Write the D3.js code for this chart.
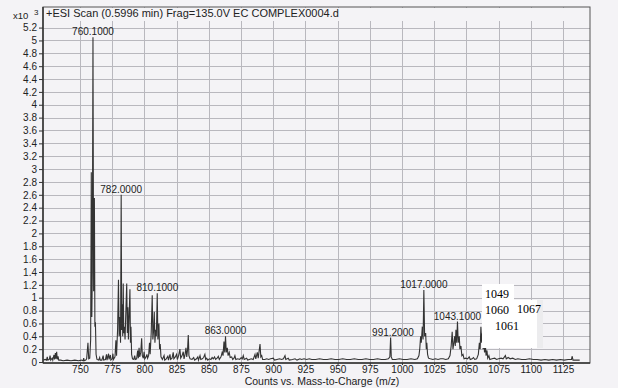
<!DOCTYPE html>
<html lang="en">
<head>
<meta charset="utf-8">
<title>ESI Scan</title>
<script src="https://cdn.jsdelivr.net/npm/d3@7"></script>
<style>
  body { margin: 0; background: #f4f3f6; }
  svg { display: block; font-family: "Liberation Sans", Arial, sans-serif; }
</style>
</head>
<body>
<div id="chart"></div>
<script>
// spectrum points: [m/z, counts x10^3]
var spectrum = [
  [721.5,0.03],[723,0.04],[724,0.03],[724.6,0.08],[725.1,0.03],[726.2,0.04],[726.8,0.1],[727.3,0.03],[728.4,0.06],[728.9,0.03],
  [729.8,0.11],[730.3,0.04],[730.9,0.14],[731.4,0.05],[731.9,0.16],[732.4,0.04],[733,0.09],[733.5,0.03],[735,0.03],[737,0.02],
  [740,0.03],[743,0.02],[746,0.03],[749,0.02],[751,0.03],[752.4,0.02],[752.9,0.06],[753.3,0.02],[754.5,0.03],[755.2,0.05],
  [756.2,0.3],[756.8,0.05],[757.6,0.06],[758.3,0.35],[758.8,2.95],[759.2,0.7],[759.6,1.4],[760.1,5.05],[760.6,1.1],[761.2,2.55],
  [761.6,0.55],[762.0,0.62],[762.5,0.12],[763.2,0.04],[764.5,0.03],[765.3,0.07],[765.7,0.03],[767,0.03],[768,0.1],[768.4,0.03],
  [769.8,0.04],[770.6,0.12],[771,0.03],[772.2,0.13],[772.6,0.04],[773.6,0.11],[774,0.03],[775,0.05],[775.6,0.13],[776,0.04],
  [777.2,0.08],[777.9,0.34],[778.4,0.1],[779.2,0.5],[779.9,1.28],[780.4,0.4],[781.1,0.7],[781.5,0.3],[782.0,2.6],[782.4,0.5],
  [782.8,0.9],[783.2,0.4],[783.6,1.22],[784.0,0.45],[784.5,0.55],[785.0,0.35],[785.5,0.7],[786.3,1.22],[786.8,0.45],[787.2,0.85],
  [787.6,0.35],[788.0,0.6],[788.8,1.13],[789.2,0.3],[789.6,0.55],[790.1,0.12],[790.8,0.05],[791.8,0.04],[792.5,0.1],[793,0.04],
  [794,0.05],[794.8,0.18],[795.3,0.06],[795.9,0.22],[796.4,0.08],[797.2,0.15],[797.9,0.37],[798.4,0.1],[799.2,0.06],[799.8,0.16],
  [800.3,0.05],[801.3,0.08],[802,0.12],[802.5,0.06],[803.3,0.1],[804,0.3],[804.5,0.12],[805.3,0.45],[806.1,1.04],[806.6,0.35],
  [807.2,0.5],[807.7,0.78],[808.2,0.3],[808.8,0.5],[809.3,0.4],[810.0,1.07],[810.5,0.35],[811.3,0.6],[811.8,0.2],[812.3,0.28],
  [812.9,0.08],[814,0.04],[815.3,0.1],[815.8,0.03],[817,0.05],[818.2,0.09],[818.7,0.03],[819.9,0.12],[820.4,0.04],[821.5,0.06],
  [822.4,0.15],[822.9,0.05],[824,0.08],[825,0.12],[825.6,0.04],[826.6,0.1],[827.6,0.2],[828.2,0.06],[829.3,0.1],[830.2,0.16],
  [830.8,0.05],[831.6,0.12],[832.3,0.22],[832.9,0.08],[833.5,0.18],[834.1,0.42],[834.6,0.1],[835.5,0.05],[837,0.04],[838.3,0.07],
  [839,0.03],[840.5,0.05],[841.5,0.08],[842,0.03],[843.2,0.1],[843.8,0.04],[845,0.05],[846,0.07],[847,0.12],[847.6,0.04],
  [848.4,0.06],[849.2,0.03],[850.5,0.05],[851.7,0.04],[852.6,0.07],[853.5,0.05],[854.5,0.08],[855.3,0.04],[856.5,0.06],[857.4,0.09],
  [858.2,0.04],[859.5,0.08],[860.4,0.15],[861.1,0.1],[861.8,0.32],[862.4,0.15],[863.0,0.4],[863.6,0.15],[864.4,0.22],[865.0,0.1],
  [865.9,0.15],[866.6,0.07],[867.8,0.08],[868.6,0.04],[869.6,0.06],[870.3,0.1],[871,0.04],[872.5,0.05],[874,0.04],[875.2,0.07],
  [876,0.05],[876.8,0.1],[877.5,0.04],[879.4,0.06],[880.2,0.03],[881.5,0.04],[883,0.05],[884.5,0.04],[885.9,0.12],[886.5,0.05],
  [887.7,0.15],[888.4,0.06],[889.8,0.28],[890.4,0.08],[891.1,0.1],[891.8,0.04],[893.5,0.04],[895,0.05],[896.5,0.04],[898,0.05],
  [900.1,0.06],[901,0.03],[903,0.04],[905,0.05],[906.5,0.04],[908,0.05],[909.2,0.1],[909.8,0.04],[911.7,0.06],[912.5,0.03],
  [915,0.04],[917,0.05],[918.5,0.03],[920.8,0.05],[922,0.04],[924,0.05],[926,0.04],[928,0.05],[930,0.04],[933,0.04],
  [936,0.05],[939,0.04],[942,0.04],[945,0.05],[948,0.04],[951,0.04],[954,0.05],[957,0.04],[960,0.04],[963,0.05],
  [966,0.04],[969,0.04],[972,0.05],[975,0.04],[978,0.04],[981,0.05],[984,0.04],[987,0.04],[989.5,0.05],[990.6,0.08],
  [991.2,0.38],[991.7,0.08],[992.5,0.04],[995,0.04],[998,0.05],[1001,0.04],[1004,0.04],[1007,0.05],[1010,0.04],[1012,0.05],
  [1013.2,0.1],[1013.8,0.2],[1014.5,0.4],[1015.0,0.3],[1015.8,0.55],[1016.4,0.35],[1017.0,1.12],[1017.6,0.4],[1018.4,0.45],[1018.9,0.2],
  [1019.3,0.3],[1019.9,0.12],[1020.6,0.06],[1022,0.05],[1024,0.04],[1026,0.05],[1028,0.04],[1030,0.05],[1032,0.05],[1034,0.04],
  [1036,0.05],[1037.3,0.1],[1038.2,0.25],[1039.0,0.47],[1039.6,0.2],[1040.3,0.3],[1040.9,0.4],[1041.4,0.25],[1041.9,0.5],[1042.5,0.3],
  [1043.1,0.63],[1043.7,0.3],[1044.5,0.4],[1045.0,0.2],[1045.8,0.25],[1046.5,0.1],[1047.4,0.12],[1048.2,0.05],[1049.5,0.06],[1051,0.05],
  [1052.2,0.08],[1053,0.04],[1054.5,0.05],[1055.5,0.07],[1056.5,0.04],[1058,0.05],[1059.3,0.12],[1060.1,0.3],[1060.7,0.2],[1061.3,0.55],
  [1061.9,0.3],[1062.5,0.45],[1063.0,0.2],[1063.6,0.35],[1064.1,0.15],[1064.8,0.25],[1065.3,0.1],[1066.0,0.18],[1066.6,0.06],[1067.5,0.1],
  [1068.2,0.04],[1070,0.05],[1072,0.06],[1073.5,0.04],[1075,0.05],[1077,0.06],[1078.5,0.05],[1080.3,0.1],[1081,0.05],[1082.5,0.07],
  [1084,0.05],[1086,0.06],[1088,0.04],[1090,0.05],[1093,0.04],[1096,0.04],[1099,0.05],[1102,0.04],[1105,0.04],[1108,0.03],
  [1111,0.04],[1114,0.03],[1117,0.04],[1120,0.03],[1123,0.04],[1126,0.03],[1129,0.04],[1131.6,0.04],[1132.2,0.09],[1132.8,0.03],
  [1135,0.03],[1138,0.03]
];

var xTicks = [750, 775, 800, 825, 850, 875, 900, 925, 950, 975, 1000, 1025, 1050, 1075, 1100, 1125];
var yTicks = [0, 0.2, 0.4, 0.6, 0.8, 1, 1.2, 1.4, 1.6, 1.8, 2, 2.2, 2.4, 2.6, 2.8, 3, 3.2, 3.4, 3.6, 3.8, 4, 4.2, 4.4, 4.6, 4.8, 5, 5.2];

// annotated peaks
var peakNames = ["760.1000", "782.0000", "810.1000", "863.0000", "991.2000", "1017.0000", "1043.1000"];
var peakMz    = [760.1, 782.0, 810.1, 863.0, 993.0, 1017.0, 1043.1];
var peakTop   = [5.05, 2.6, 1.07, 0.4, 0.38, 1.12, 0.63];

// hand-written notes pasted on the scan
var noteText = ["1049", "1060", "1067", "1061"];
var noteMz   = [1073.8, 1073.8, 1098.7, 1081.6];
var noteY    = [1.0, 0.75, 0.77, 0.5];

var w = 618, h = 388;
var mLeft = 43, mRight = 590, mTop = 7, mBottom = 363;

var x = d3.scaleLinear().domain([721.3, 1146]).range([mLeft, mRight]);
var y = d3.scaleLinear().domain([-0.015, 5.52]).range([mBottom, mTop]);

var svg = d3.select("#chart").append("svg")
  .attr("width", w)
  .attr("height", h);

// grid
svg.append("g").selectAll("line")
  .data(yTicks.filter(function(d) { return d > 0; }))
  .enter().append("line")
  .attr("x1", mLeft).attr("x2", mRight)
  .attr("y1", function(d) { return Math.round(y(d)) + 0.5; })
  .attr("y2", function(d) { return Math.round(y(d)) + 0.5; })
  .attr("stroke", "#b9b8be").attr("stroke-width", 1);

svg.append("g").selectAll("line")
  .data(xTicks)
  .enter().append("line")
  .attr("y1", mTop).attr("y2", mBottom)
  .attr("x1", function(d) { return Math.round(x(d)) + 0.5; })
  .attr("x2", function(d) { return Math.round(x(d)) + 0.5; })
  .attr("stroke", "#b9b8be").attr("stroke-width", 1);

// title strip
svg.append("rect")
  .attr("x", mLeft + 1).attr("y", mTop + 1)
  .attr("width", mRight - mLeft - 2).attr("height", 13)
  .attr("fill", "#f4f3f6");

svg.append("text")
  .attr("x", 46).attr("y", 17)
  .attr("font-size", "11px").attr("fill", "#222")
  .text("+ESI Scan (0.5996 min) Frag=135.0V EC COMPLEX0004.d");

// spectrum
var line = d3.line()
  .x(function(d) { return x(d[0]); })
  .y(function(d) { return y(d[1]); });

svg.append("path")
  .datum(spectrum)
  .attr("d", line)
  .attr("fill", "none")
  .attr("stroke", "#333")
  .attr("stroke-width", 1.1);

// frame
svg.append("rect")
  .attr("x", mLeft).attr("y", mTop)
  .attr("width", mRight - mLeft).attr("height", mBottom - mTop)
  .attr("fill", "none").attr("stroke", "#555").attr("stroke-width", 1);

svg.append("line")
  .attr("x1", mLeft).attr("x2", mLeft).attr("y1", mTop).attr("y2", mBottom)
  .attr("stroke", "#333").attr("stroke-width", 1.5);
svg.append("line")
  .attr("x1", mLeft).attr("x2", mRight).attr("y1", mBottom).attr("y2", mBottom)
  .attr("stroke", "#333").attr("stroke-width", 1.5);

// axes
var yAxis = d3.axisLeft(y).tickValues(yTicks).tickSize(4).tickPadding(2)
  .tickFormat(function(d) { return String(+d.toFixed(1)); });
var gy = svg.append("g").attr("transform", "translate(" + mLeft + ",0)").call(yAxis);
gy.select(".domain").remove();
gy.selectAll("line").attr("stroke", "#333");
gy.selectAll("text").attr("font-size", "10px").attr("fill", "#222")
  .attr("font-family", "Liberation Sans, Arial, sans-serif");

var xAxis = d3.axisBottom(x).tickValues(xTicks).tickSize(2).tickPadding(1)
  .tickFormat(d3.format("d"));
var gx = svg.append("g").attr("transform", "translate(0," + mBottom + ")").call(xAxis);
gx.select(".domain").remove();
gx.selectAll("line").attr("stroke", "#333");
gx.selectAll("text").attr("font-size", "10px").attr("fill", "#222")
  .attr("font-family", "Liberation Sans, Arial, sans-serif");

// y scale multiplier
svg.append("text").attr("x", 13).attr("y", 19)
  .attr("font-size", "9.5px").attr("fill", "#222").text("x10");
svg.append("text").attr("x", 34).attr("y", 15)
  .attr("font-size", "8px").attr("fill", "#222").text("3");

// x axis title
svg.append("text")
  .attr("x", 322).attr("y", 385)
  .attr("text-anchor", "middle")
  .attr("font-size", "10.5px").attr("fill", "#222")
  .text("Counts vs. Mass-to-Charge (m/z)");

// peak labels
svg.append("g").selectAll("text")
  .data(peakNames)
  .enter().append("text")
  .attr("x", function(d, i) { return x(peakMz[i]); })
  .attr("y", function(d, i) { return y(peakTop[i]) - 2; })
  .attr("text-anchor", "middle")
  .attr("font-size", "10px").attr("fill", "#222")
  .text(function(d) { return d; });

// pasted white patch with the notes
svg.append("rect").attr("x", 482).attr("y", 284).attr("width", 32).attr("height", 64).attr("fill", "#ffffff");
svg.append("rect").attr("x", 513).attr("y", 300).attr("width", 24).attr("height", 48).attr("fill", "#ffffff");
svg.append("rect").attr("x", 537).attr("y", 300).attr("width", 6).attr("height", 48).attr("fill", "#ececee");

svg.append("g").selectAll("text")
  .data(noteText)
  .enter().append("text")
  .attr("x", function(d, i) { return x(noteMz[i]); })
  .attr("y", function(d, i) { return y(noteY[i]); })
  .attr("text-anchor", "middle")
  .attr("font-family", "Liberation Serif, serif")
  .attr("font-size", "12px").attr("fill", "#000")
  .text(function(d) { return d; });
</script>
</body>
</html>
